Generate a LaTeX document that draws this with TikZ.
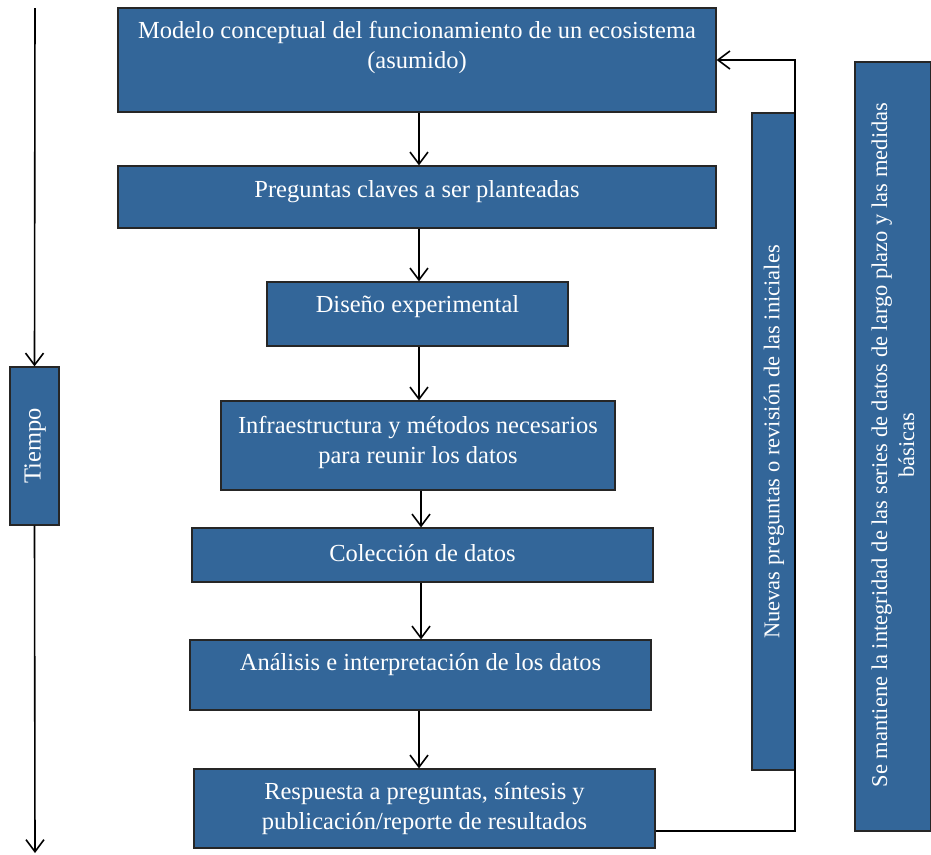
\documentclass[tikz,border=0pt]{standalone}
\usepackage{fontspec}
\setmainfont{Liberation Serif}
\usetikzlibrary{arrows.meta}
\definecolor{boxblue}{RGB}{51,102,153}
\begin{document}
\begin{tikzpicture}[x=1pt,y=-1pt,
  box/.style={draw=black!85,line width=1.2pt,fill=boxblue,inner sep=0pt},
  txt/.style={text=white,align=center,inner sep=0pt,font=\fontsize{24.5}{30}\selectfont},
  vtxt/.style={txt,rotate=90,font=\fontsize{22.5}{27}\selectfont},
  arr/.style={line width=1.6pt,-{Straight Barb[length=12pt,width=18pt,line width=1.6pt]}},
  lin/.style={line width=1.4pt}]
\useasboundingbox (0,0) rectangle (931,854);
% main boxes
\node[box,minimum width=598pt,minimum height=104pt] (b1) at (417,60) {};
\node[txt] (t1) at (417,47) {Modelo conceptual del funcionamiento de un ecosistema\\(asumido)};
\node[box,minimum width=598pt,minimum height=62pt] (b2) at (417,197) {};
\node[txt] (t2) at (417,192) {Preguntas claves a ser planteadas};
\node[box,minimum width=301pt,minimum height=64pt] (b3) at (417.5,314) {};
\node[txt] (t3) at (417.5,307) {Diseño experimental};
\node[box,minimum width=394pt,minimum height=89pt] (b4) at (418,445.5) {};
\node[txt] (t4) at (418,442) {Infraestructura y métodos necesarios\\para reunir los datos};
\node[box,minimum width=461pt,minimum height=54pt] (b5) at (422.5,555) {};
\node[txt] (t5) at (422.5,553) {Colección de datos};
\node[box,minimum width=461pt,minimum height=70pt] (b6) at (420.5,675) {};
\node[txt] (t6) at (420.5,665) {Análisis e interpretación de los datos};
\node[box,minimum width=461pt,minimum height=79pt] (b7) at (424.5,808.5) {};
\node[txt] (t7) at (424.5,809) {Respuesta a preguntas, síntesis y\\publicación/reporte de resultados};
% side boxes
\node[box,minimum width=43pt,minimum height=657pt] (nv) at (773.5,441.5) {};
\node[vtxt] (tnv) at (774,442) {Nuevas preguntas o revisión de las iniciales};
\node[box,minimum width=76pt,minimum height=769pt] (se) at (893,446.5) {};
\node[vtxt] (tse) at (893,445) {Se mantiene la integridad de las series de datos de largo plazo y las medidas\\básicas};
\node[box,minimum width=49pt,minimum height=158pt] (ti) at (34.5,446) {};
\node[txt,rotate=90] (tti) at (35,446) {Tiempo};
% time arrow
\coordinate (tstart) at (35,8);
\coordinate (tend) at (35,853);
\draw[arr] (tstart) -- (ti.north);
\draw[arr] (ti.south) -- (tend);
% flow arrows
\coordinate (xa) at (419,0);
\coordinate (xb) at (421,0);
\draw[arr] (b1.south -| xa) -- (b2.north -| xa);
\draw[arr] (b2.south -| xa) -- (b3.north -| xa);
\draw[arr] (b3.south -| xa) -- (b4.north -| xa);
\draw[arr] (b4.south -| xb) -- (b5.north -| xb);
\draw[arr] (b5.south -| xb) -- (b6.north -| xb);
\draw[arr] (b6.south -| xa) -- (b7.north -| xa);
% feedback loop
\coordinate (fb1) at (795,831);
\coordinate (fb2) at (795,60);
\draw[arr] (b7.east |- fb1) -- (fb1) -- (fb2) -- (b1.east |- fb2);
\end{tikzpicture}
\end{document}
